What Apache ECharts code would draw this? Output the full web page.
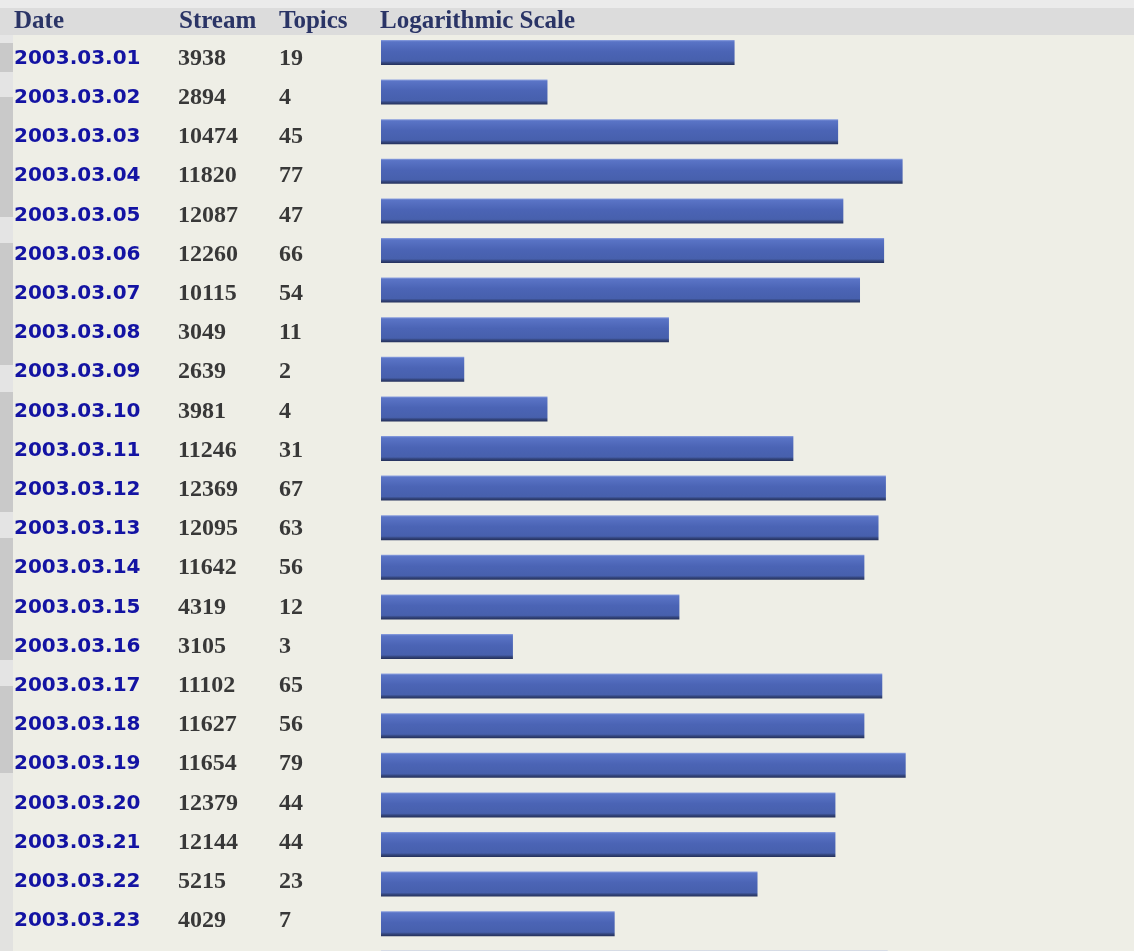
<!DOCTYPE html>
<html>
<head>
<meta charset="utf-8">
<script src="https://cdn.jsdelivr.net/npm/echarts@6/dist/echarts.min.js"></script>
<style>
html,body{margin:0;padding:0;background:#EEEEE6;overflow:hidden;}
#chart{width:1134px;height:951px;}
</style>
</head>
<body>
<div id="chart"></div>
<script>
// ---- data ----
const dates = ['2003.03.01','2003.03.02','2003.03.03','2003.03.04','2003.03.05','2003.03.06','2003.03.07','2003.03.08','2003.03.09','2003.03.10','2003.03.11','2003.03.12','2003.03.13','2003.03.14','2003.03.15','2003.03.16','2003.03.17','2003.03.18','2003.03.19','2003.03.20','2003.03.21','2003.03.22','2003.03.23'];
const streams = [3938,2894,10474,11820,12087,12260,10115,3049,2639,3981,11246,12369,12095,11642,4319,3105,11102,11627,11654,12379,12144,5215,4029];
const topics = [19,4,45,77,47,66,54,11,2,4,31,67,63,56,12,3,65,56,79,44,44,23,7];
// next row, only its bar top is visible at the bottom edge
const nextRowDate = ['2003.03.24'];
const nextRowTopics = [68];
const headers = ['Date','Stream','Topics','Logarithmic Scale'];

const barCats = dates.concat(nextRowDate);
const barVals = topics.concat(nextRowTopics);

const chart = echarts.init(document.getElementById('chart'), null, {renderer:'canvas'});

const GL = 381;          // left of bar area
const dateFont = {fontFamily:'DejaVu Sans', fontWeight:'bold', fontSize:20, color:'#1313A3'};
const numFont = {fontFamily:'Liberation Serif', fontWeight:'bold', fontSize:24, color:'#383838'};
const headFont = 'bold 25px "Liberation Serif"';

function labelAxis(margin, fmt, style){
  return {
    type:'category', gridIndex:1, inverse:true, position:'left', data:dates,
    axisLine:{show:false}, axisTick:{show:false}, splitLine:{show:false},
    axisLabel:Object.assign({align:'left', margin:margin, interval:0, formatter:fmt}, style)
  };
}

const rects = [];
rects.push({type:'rect', z:-10, shape:{x:0,y:0,width:1134,height:8}, style:{fill:'#EBEBEB'}});
rects.push({type:'rect', z:-10, shape:{x:0,y:8,width:1134,height:27}, style:{fill:'#DCDCDC'}});
rects.push({type:'rect', z:-10, shape:{x:0,y:35,width:13,height:8}, style:{fill:'#E6E6E6'}});
rects.push({type:'rect', z:-10, shape:{x:0,y:43,width:13,height:730}, style:{fill:'#C9C9C9'}});
[[72,25],[217,26],[365,27],[512,26],[660,26]].forEach(function(b){
  rects.push({type:'rect', z:-9, shape:{x:0,y:b[0],width:13,height:b[1]}, style:{fill:'#E4E4E4'}});
});
rects.push({type:'rect', z:-10, shape:{x:0,y:773,width:13,height:178}, style:{fill:'#E2E2E0'}});

const headX = [14, 179, 279, 380];
headers.forEach(function(h,i){
  rects.push({type:'text', z:5, x:headX[i], y:21.5,
    style:{text:h, fill:'#2A3466', font:headFont, align:'left', verticalAlign:'middle'}});
});

const option = {
  backgroundColor:'#EEEEE6',
  animation:false,
  graphic:rects,
  grid:[
    {left:GL, width:553, top:32.7, height:950.4, outerBoundsMode:'none', containLabel:false},
    {left:GL, width:553, top:38.9, height:901.6, outerBoundsMode:'none', containLabel:false}
  ],
  xAxis:[
    {type:'log', gridIndex:0, min:1, max:100, logBase:10, show:false},
    {type:'value', gridIndex:1, min:0, max:1, show:false}
  ],
  yAxis:[
    {type:'category', gridIndex:0, inverse:true, data:barCats, show:false},
    labelAxis(GL-14, function(v,i){return dates[i];}, dateFont),
    labelAxis(GL-178, function(v,i){return String(streams[i]);}, numFont),
    labelAxis(GL-279, function(v,i){return String(topics[i]);}, numFont)
  ],
  series:[{
    type:'bar', xAxisIndex:0, yAxisIndex:0, data:barVals, barWidth:25,
    itemStyle:{
      color:{type:'linear', x:0, y:0, x2:0, y2:1, colorStops:[
        {offset:0, color:'#8EA2E0'},
        {offset:0.07, color:'#5A74C6'},
        {offset:0.45, color:'#4B64B5'},
        {offset:0.84, color:'#4760AD'},
        {offset:0.91, color:'#34467E'},
        {offset:1, color:'#24305A'}
      ]}
    }
  }]
};
chart.setOption(option);
</script>
</body>
</html>
